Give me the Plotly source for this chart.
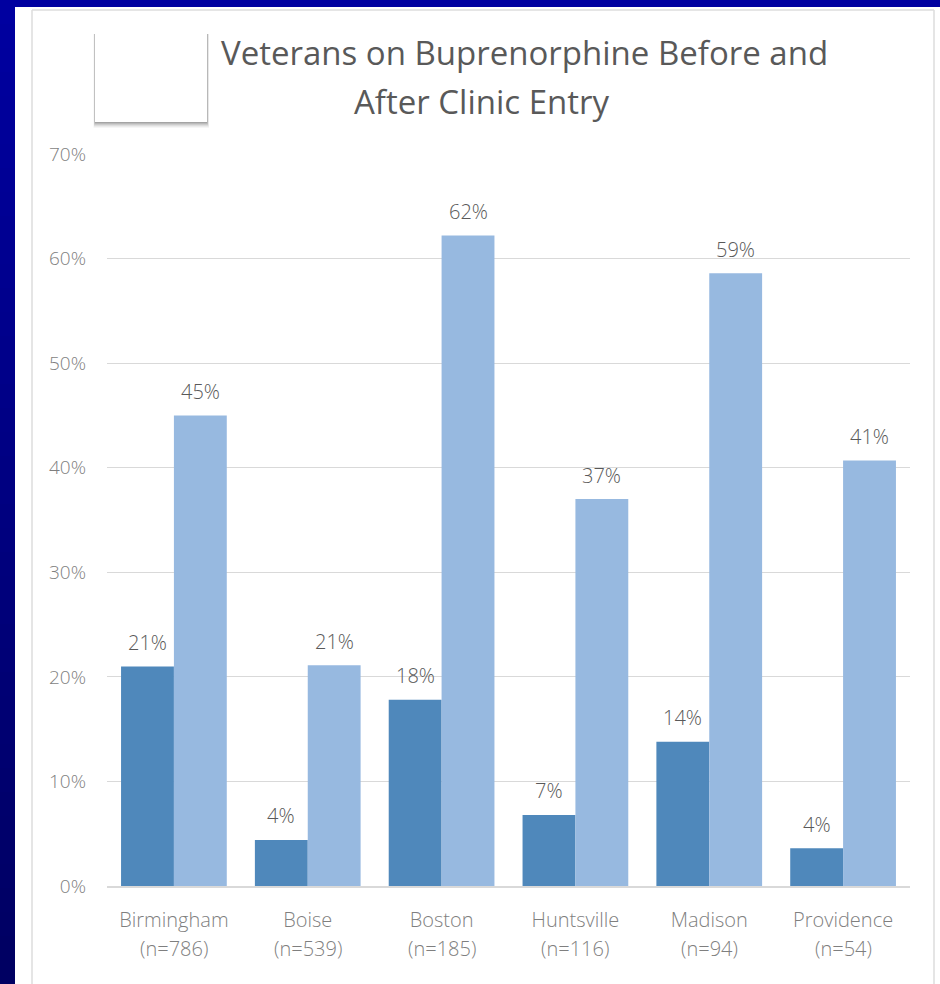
import plotly.graph_objects as go

# ---- data ----
cities = ["Birmingham", "Boise", "Boston", "Huntsville", "Madison", "Providence"]
n_counts = ["(n=786)", "(n=539)", "(n=185)", "(n=116)", "(n=94)", "(n=54)"]
before = [21.0, 4.4, 17.8, 6.8, 13.8, 3.6]
after = [45.0, 21.1, 62.2, 37.0, 58.6, 40.7]
y_ticks = [0, 10, 20, 30, 40, 50, 60, 70]
y_ticktext = [f"{v}%" for v in y_ticks]
title_line1 = "Veterans on Buprenorphine Before and"
title_line2 = "After Clinic Entry"

W, H = 940, 984
FONT = "Open Sans"
X0, X1 = 107, 910
BARGAP = 0.21

def px(x):
    return x / W

def py(y):
    return 1 - y / H

lab_font = dict(family=FONT, size=20, color="#595959", weight=300)
axis_font = dict(family=FONT, size=20, color="#7F7F7F", weight=300)
ytick_font = dict(family=FONT, size=19, color="#7F7F7F", weight=300)

fig = go.Figure()
fig.add_trace(go.Bar(x=cities, y=before, name="Before",
                     marker=dict(color="#4F88BB", line=dict(width=0))))
fig.add_trace(go.Bar(x=cities, y=after, name="After",
                     marker=dict(color="#97B9E0", line=dict(width=0))))

# half bar width in pixels (for placing value labels over each bar)
cat_w = (X1 - X0) / len(cities)
half = cat_w * (1 - BARGAP) / 4

annotations = []
for series, sh in [(before, -half), (after, half)]:
    for c, v in zip(cities, series):
        annotations.append(dict(text=f"{v:.0f}%", xref="x", yref="y", x=c, y=v,
                                xshift=sh, yshift=24, showarrow=False,
                                xanchor="center", yanchor="middle", font=lab_font))

shapes = []
# blue page background: top strip and left strip with vertical gradient
shapes.append(dict(type="rect", xref="paper", yref="paper", x0=-0.01, x1=1.01, y0=py(7), y1=1.01,
                   fillcolor="#0000A0", line=dict(width=0), layer="below"))
step = 24
nstrip = H // step + 1
top_c = (0, 0, 160)
bot_c = (0, 0, 96)
for i in range(nstrip):
    t = i / (nstrip - 1)
    c = tuple(int(round(top_c[k] + (bot_c[k] - top_c[k]) * t)) for k in range(3))
    y0 = i * step
    y1 = (i + 1) * step + 1
    shapes.append(dict(type="rect", xref="paper", yref="paper",
                       x0=-0.01, x1=px(15), y0=py(y1), y1=py(y0),
                       fillcolor=f"rgb{c}", line=dict(width=0), layer="below"))
# inner light gray frame
frame_c = "#DDDDDD"
shapes.append(dict(type="line", xref="paper", yref="paper", x0=px(32), x1=px(32), y0=-0.01, y1=py(10),
                   line=dict(color=frame_c, width=1.5), layer="below"))
shapes.append(dict(type="line", xref="paper", yref="paper", x0=px(934), x1=px(934), y0=-0.01, y1=py(10),
                   line=dict(color=frame_c, width=1.5), layer="below"))
shapes.append(dict(type="line", xref="paper", yref="paper", x0=px(32), x1=px(934), y0=py(10), y1=py(10),
                   line=dict(color=frame_c, width=1.5), layer="below"))
# white box with soft shadow (mostly below)
for off, a in [(6, 0.035), (5, 0.045), (4, 0.06), (3, 0.075), (2, 0.09), (1, 0.11)]:
    shapes.append(dict(type="rect", xref="paper", yref="paper",
                       x0=px(95 - off * 0.25), x1=px(207 + off * 0.35),
                       y0=py(122 + off), y1=py(34),
                       fillcolor=f"rgba(0,0,0,{a})", line=dict(width=0), layer="below"))
shapes.append(dict(type="rect", xref="paper", yref="paper", x0=px(95), x1=px(207),
                   y0=py(122), y1=py(24), fillcolor="white", line=dict(width=0), layer="below"))

title_font = dict(family=FONT, size=33, color="#595959", weight=400)
annotations += [
    dict(text=title_line1, xref="paper", yref="paper", x=px(524), y=py(52), showarrow=False,
         xanchor="center", yanchor="middle", font=title_font),
    dict(text=title_line2, xref="paper", yref="paper", x=px(482), y=py(102), showarrow=False,
         xanchor="center", yanchor="middle", font=title_font),
]
for c, n in zip(cities, n_counts):
    annotations.append(dict(text=n, xref="x", yref="paper", x=c, y=py(948), showarrow=False,
                            xanchor="center", yanchor="middle", font=axis_font))

fig.update_layout(
    width=W, height=H,
    margin=dict(l=0, r=0, t=0, b=0),
    paper_bgcolor="white", plot_bgcolor="rgba(0,0,0,0)",
    showlegend=False,
    barmode="group", bargap=BARGAP, bargroupgap=0,
    shapes=shapes, annotations=annotations,
    xaxis=dict(domain=[px(X0), px(X1)], showgrid=False, showline=True,
               linecolor="#D9D9D9", linewidth=1.5, ticks="", automargin=False,
               tickfont=axis_font, ticklabelstandoff=15),
    yaxis=dict(domain=[py(886), py(154)], range=[0, 70], tickvals=y_ticks, ticktext=y_ticktext,
               showgrid=True, gridcolor="#D9D9D9", gridwidth=1, zeroline=False, showline=False,
               ticks="", automargin=False, ticklabelstandoff=20, tickfont=ytick_font),
)

fig.write_html("out.html")
